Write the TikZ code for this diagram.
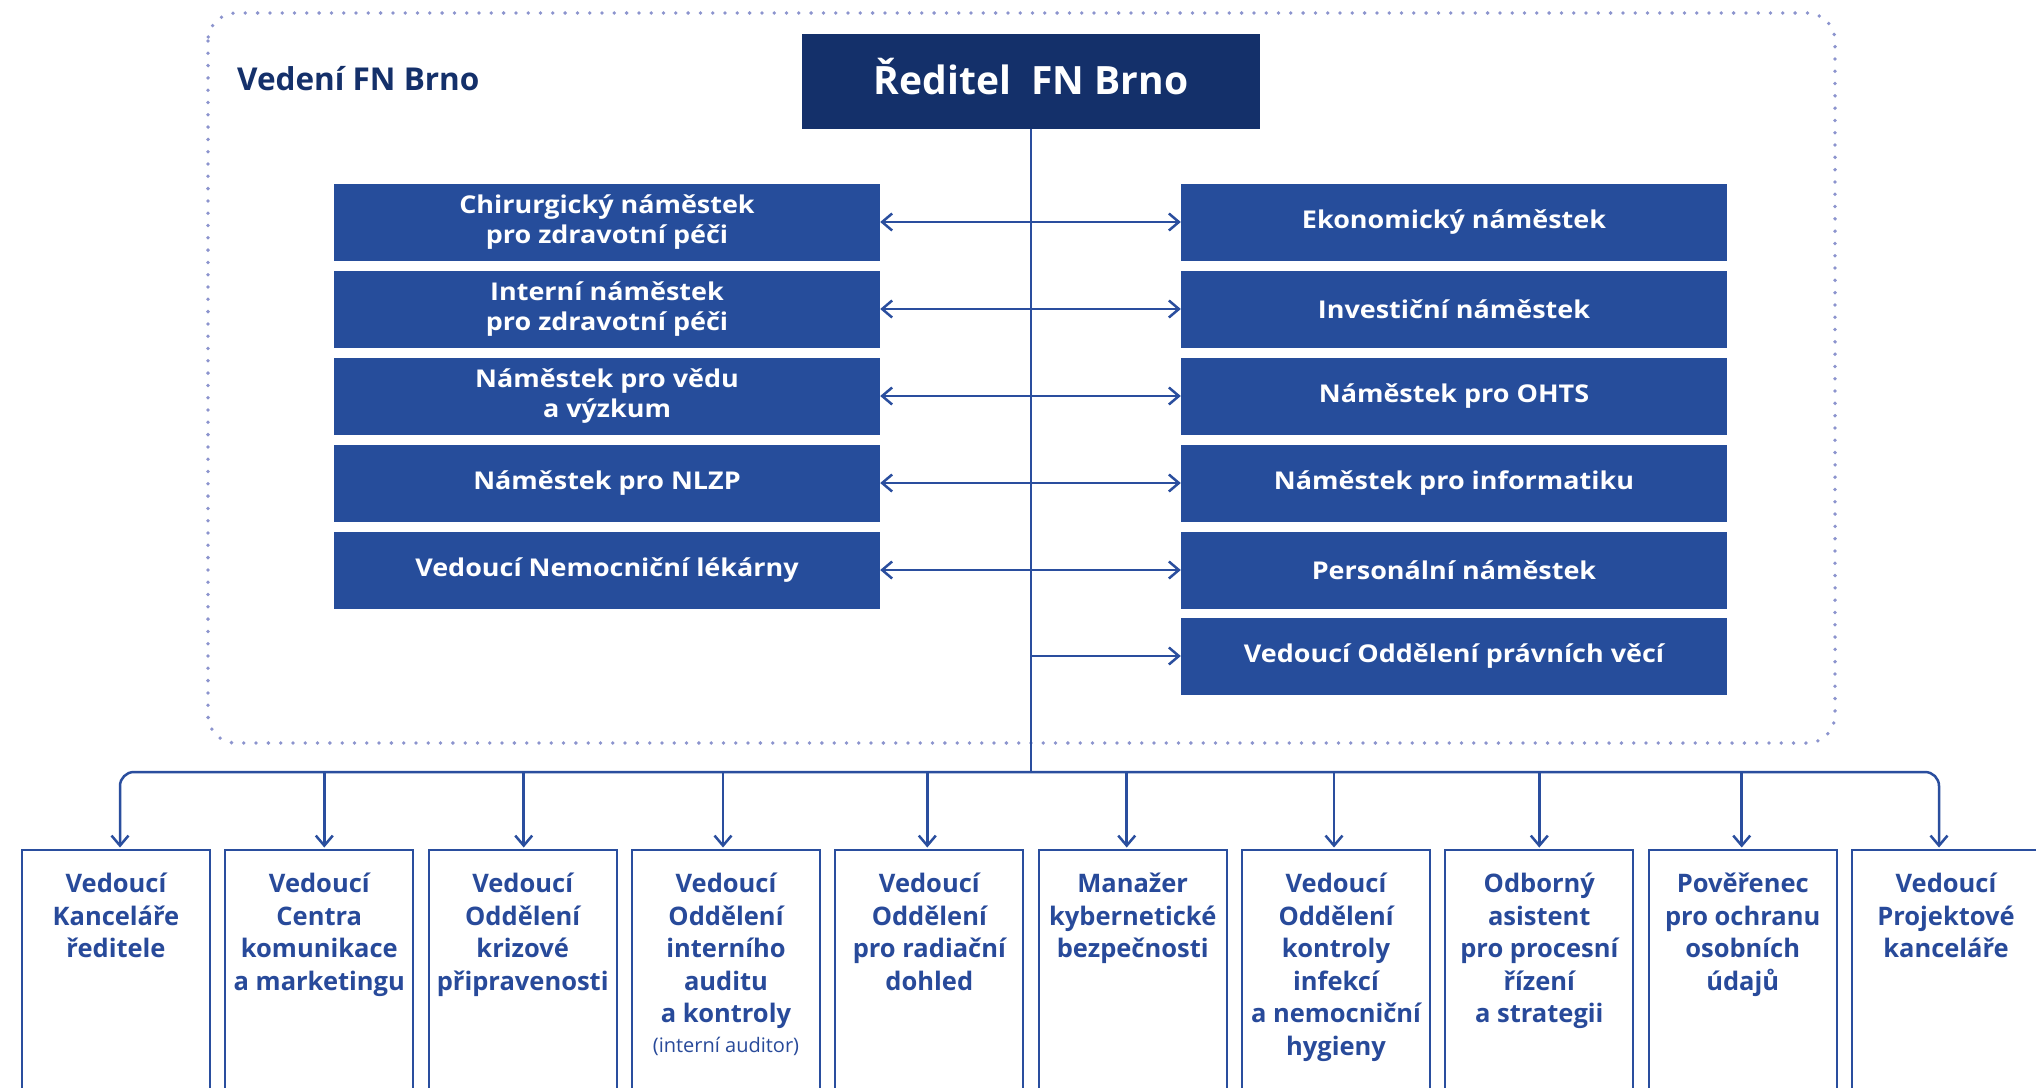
\documentclass[tikz,border=0pt]{standalone}
\usepackage{fontspec}
\setmainfont{Open Sans}
\newfontfamily\wideos[FakeStretch=1.1]{Open Sans}
\usetikzlibrary{arrows.meta,calc}
\definecolor{navy}{RGB}{20,48,106}
\definecolor{boxblue}{RGB}{38,77,155}
\definecolor{lineblue}{RGB}{42,78,158}
\definecolor{dotblue}{RGB}{140,148,206}
\definecolor{txtblue}{RGB}{40,74,154}
\begin{document}
\begin{tikzpicture}[x=1pt,y=-1pt,
  conn/.style={draw=lineblue,line width=2.5pt},
  tipend/.style={-{Straight Barb[length=10pt,width=17pt]}},
  tipboth/.style={{Straight Barb[length=10pt,width=17pt]}-{Straight Barb[length=10pt,width=17pt]}},
  mbox/.style={fill=boxblue,text=white,minimum width=546pt,minimum height=77pt,inner sep=0pt,align=center,font=\wideos\fontsize{24.5}{30.5}\selectfont\bfseries},
  bbox/.style={draw=lineblue,line width=2.2pt,minimum width=188pt,minimum height=270pt,anchor=north,inner sep=0pt},
  btext/.style={text=txtblue,align=center,anchor=north,inner sep=0pt,font=\fontsize{25.5}{32.5}\selectfont\bfseries},
]
\useasboundingbox (0,0) rectangle (2036,1087);
\fill[white] (0,0) rectangle (2036,1087);

% dotted frame
\draw[dotblue,line width=3.8pt,line cap=round,dash pattern=on 0pt off 12.3pt,rounded corners=28pt]
  (208,13) rectangle (1835,743);
\node[anchor=base west,inner sep=0pt,text=navy,font=\fontsize{31.5}{36}\selectfont\bfseries] (title) at (237,90) {Vedení FN Brno};

% director
\node[fill=navy,text=white,minimum width=458pt,minimum height=95pt,inner sep=0pt,text height=27pt,text depth=0pt,font=\fontsize{39}{44}\selectfont\bfseries] (ceo) at (1031,81) {Ředitel\ \ FN Brno};

% left deputies
\node[mbox] (L1) at (607,222) {Chirurgický náměstek\\pro zdravotní péči};
\node[mbox] (L2) at (607,309) {Interní náměstek\\pro zdravotní péči};
\node[mbox] (L3) at (607,396) {Náměstek pro vědu\\a výzkum};
\node[mbox] (L4) at (607,483) {Náměstek pro NLZP};
\node[mbox] (L5) at (607,570) {Vedoucí Nemocniční lékárny};

% right deputies
\node[mbox] (R1) at (1454,222) {Ekonomický náměstek};
\node[mbox] (R2) at (1454,309) {Investiční náměstek};
\node[mbox] (R3) at (1454,396) {Náměstek pro OHTS};
\node[mbox] (R4) at (1454,483) {Náměstek pro informatiku};
\node[mbox] (R5) at (1454,570) {Personální náměstek};
\node[mbox] (R6) at (1454,656) {Vedoucí Oddělení právních věcí};

% bottom boxes
\node[bbox] (B1) at (116,849) {};
\node[bbox] (B2) at (319.3,849) {};
\node[bbox] (B3) at (522.7,849) {};
\node[bbox] (B4) at (726,849) {};
\node[bbox] (B5) at (929.3,849) {};
\node[bbox] (B6) at (1132.7,849) {};
\node[bbox] (B7) at (1336,849) {};
\node[bbox] (B8) at (1539.3,849) {};
\node[bbox] (B9) at (1742.7,849) {};
\node[bbox] (B10) at (1946,849) {};

\node[btext] (T1) at ($(B1.north)+(0,21)$) {\strut Vedoucí\\Kanceláře\\ředitele};
\node[btext] (T2) at ($(B2.north)+(0,21)$) {\strut Vedoucí\\Centra\\komunikace\\a marketingu};
\node[btext] (T3) at ($(B3.north)+(0,21)$) {\strut Vedoucí\\Oddělení\\krizové\\připravenosti};
\node[btext] (T4) at ($(B4.north)+(0,21)$) {\strut Vedoucí\\Oddělení\\interního\\auditu\\a kontroly\\[-3pt]{\fontsize{20}{24}\selectfont\mdseries (interní auditor)}};
\node[btext] (T5) at ($(B5.north)+(0,21)$) {\strut Vedoucí\\Oddělení\\pro radiační\\dohled};
\node[btext] (T6) at ($(B6.north)+(0,21)$) {\strut Manažer\\kybernetické\\bezpečnosti};
\node[btext] (T7) at ($(B7.north)+(0,21)$) {\strut Vedoucí\\Oddělení\\kontroly\\infekcí\\a nemocniční\\hygieny};
\node[btext] (T8) at ($(B8.north)+(0,21)$) {\strut Odborný\\asistent\\pro procesní\\řízení\\a strategii};
\node[btext] (T9) at ($(B9.north)+(0,21)$) {\strut Pověřenec\\pro ochranu\\osobních\\údajů};
\node[btext] (T10) at ($(B10.north)+(0,21)$) {\strut Vedoucí\\Projektové\\kanceláře};

% drop points on the box tops (as in the reference, slightly off-centre)
\coordinate (D1) at ($(B1.north)+(4,0)$);
\coordinate (D2) at ($(B2.north)+(5,0)$);
\coordinate (D3) at ($(B3.north)+(1,0)$);
\coordinate (D4) at ($(B4.north)+(-3,0)$);
\coordinate (D5) at ($(B5.north)+(-2,0)$);
\coordinate (D6) at ($(B6.north)+(-6,0)$);
\coordinate (D7) at ($(B7.north)+(-2,0)$);
\coordinate (D8) at ($(B8.north)+(0,0)$);
\coordinate (D9) at ($(B9.north)+(-1,0)$);
\coordinate (D10) at ($(B10.north)+(-7,0)$);

% connectors
\coordinate (bus) at (1031,772);
\draw[conn] (ceo.south) -- (ceo.south |- bus);
\foreach \i in {1,...,5}{
  \draw[conn,tipboth] (L\i.east) -- (R\i.west);
}
\draw[conn,tipend] (ceo.south |- R6.west) -- (R6.west);
\draw[conn,tipboth,rounded corners=14pt,shorten <=1.5pt,shorten >=1.5pt]
  (D1) -- (D1 |- bus) -- (D10 |- bus) -- (D10);
\foreach \i in {2,...,9}{
  \draw[conn,tipend,shorten >=1.5pt] (D\i |- bus) -- (D\i);
}
\end{tikzpicture}
\end{document}
